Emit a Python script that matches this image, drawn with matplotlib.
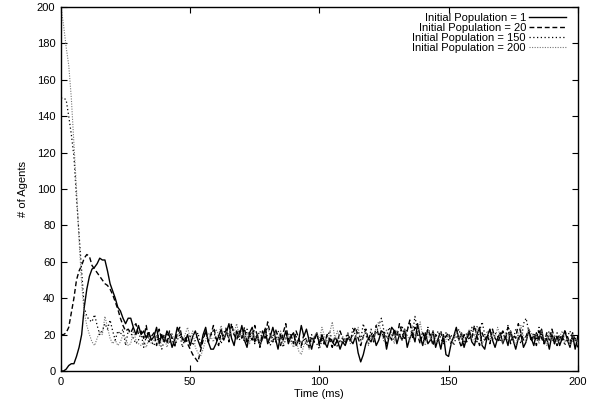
import matplotlib
matplotlib.use('Agg')
from matplotlib import pyplot as plt
import numpy as np

matplotlib.rcParams['font.family'] = ['Liberation Sans', 'DejaVu Sans']
matplotlib.rcParams['font.size'] = 8

# number of agents per ms
pop1 = [0, 0, 1, 3, 4, 4, 8, 13, 20, 35, 45, 52, 56, 57, 59, 62, 61, 61, 55, 48,
        44, 40, 35, 33, 29, 26, 29, 29, 24, 20,
        25, 20, 22, 18, 21, 17, 19, 24, 15, 20, 16, 22, 19, 13, 17, 24, 21, 18, 16, 20,
        14, 19, 22, 17, 13, 20, 24, 16, 12, 12, 15, 19, 23, 17, 21, 26, 18, 14, 22, 19,
        25, 17, 13, 21, 24, 16, 20, 14, 18, 23, 15, 19, 24, 18, 12, 20, 17, 22, 15, 19,
        21, 14, 17, 25, 19, 23, 17, 12, 18, 21, 15, 20, 16, 13, 18, 16, 14, 17, 12, 16,
        14, 18, 17, 15, 19, 10, 5, 9, 15, 18, 16, 20, 14, 17, 22, 21, 12, 19, 24, 22,
        15, 20, 17, 23, 13, 18, 21, 16, 26, 19, 14, 21, 15, 17, 22, 13, 18, 12, 20, 9,
        8, 15, 19, 24, 17, 21, 13, 18, 22, 16, 14, 20, 24, 14, 12, 19, 23, 17, 13, 18,
        21, 15, 19, 14, 22, 17, 12, 18, 20, 13, 16, 22, 18, 14, 21, 17, 23, 15, 18, 12,
        20, 15, 19, 14, 18, 22, 17, 13, 20, 12, 19]

pop20 = [20, 20, 21, 24, 32, 40, 50, 55, 58, 62, 64, 63, 58, 56, 54, 52, 50, 48, 47, 45,
         42, 38, 34, 29, 25, 22, 23, 21, 24, 26,
         20, 22, 18, 25, 16, 19, 21, 14, 23, 17, 20, 15, 22, 18, 13, 21, 24, 17, 19, 15,
         12, 9, 7, 5, 11, 17, 22, 16, 20, 25, 18, 14, 21, 19, 23, 16, 26, 20, 17, 22,
         18, 24, 15, 21, 17, 25, 19, 13, 22, 18, 27, 20, 16, 23, 19, 14, 21, 26, 17, 20,
         15, 22, 18, 14, 20, 17, 13, 19, 16, 21, 14, 18, 15, 20, 17, 13, 19, 16, 22, 18,
         15, 20, 17, 21, 24, 18, 14, 19, 23, 17, 21, 16, 25, 19, 22, 18, 15, 20, 17, 23,
         19, 26, 21, 17, 22, 28, 18, 24, 20, 15, 21, 17, 23, 19, 14, 20, 18, 22, 16, 19,
         21, 15, 18, 23, 17, 13, 20, 16, 22, 18, 25, 19, 14, 21, 17, 20, 15, 23, 18, 16,
         19, 22, 17, 24, 15, 20, 18, 26, 21, 17, 19, 23, 16, 20, 14, 22, 18, 15, 21, 17,
         23, 18, 14, 20, 16, 22, 19, 15, 21, 17, 13]

pop150 = [150, 150, 149, 140, 130, 118, 95, 75, 55, 35, 30, 28, 27, 31, 25, 20, 22, 26, 23, 28,
          22, 17, 22, 20, 23, 14, 22, 21, 18, 15,
          17, 21, 13, 19, 22, 16, 14, 20, 18, 12, 17, 21, 15, 19, 14, 17, 20, 13, 18, 16,
          19, 14, 17, 21, 15, 18, 22, 16, 19, 23, 17, 20, 15, 21, 24, 18, 26, 19, 22, 17,
          20, 16, 23, 18, 21, 15, 19, 22, 17, 24, 18, 14, 20, 16, 22, 19, 13, 18, 21, 17,
          15, 19, 16, 13, 18, 14, 17, 20, 16, 15, 12, 17, 14, 19, 22, 16, 18, 13, 17, 15,
          18, 21, 16, 24, 19, 22, 17, 26, 20, 15, 23, 18, 21, 25, 29, 22, 18, 24, 20, 17,
          22, 19, 25, 18, 23, 27, 20, 30, 22, 18, 21, 17, 24, 20, 16, 19, 22, 18, 15, 21,
          17, 20, 14, 19, 23, 18, 15, 21, 17, 24, 19, 16, 22, 27, 20, 18, 23, 17, 21, 19,
          16, 22, 18, 25, 20, 17, 23, 19, 15, 26, 29, 22, 18, 21, 17, 24, 20, 16, 19, 22,
          18, 15, 21, 17, 20, 14, 19, 22, 16, 18, 15]

pop200 = [200, 190, 178, 168, 150, 125, 100, 72, 48, 32, 25, 20, 16, 14, 18, 22, 20, 30, 24, 18,
          15, 17, 14, 16, 20, 18, 14, 15, 22, 17,
          15, 14, 16, 13, 18, 15, 17, 20, 14, 16, 19, 13, 17, 21, 15, 18, 22, 16, 20, 24,
          18, 22, 13, 10, 8, 12, 17, 21, 19, 16, 23, 20, 25, 18, 22, 17, 24, 21, 26, 19,
          22, 17, 20, 15, 23, 18, 21, 14, 17, 20, 24, 19, 16, 21, 17, 22, 15, 18, 20, 16,
          13, 17, 11, 9, 14, 18, 12, 16, 19, 21, 17, 24, 19, 15, 21, 27, 18, 22, 16, 19,
          17, 21, 15, 20, 18, 24, 16, 19, 22, 14, 20, 17, 25, 27, 21, 16, 23, 18, 20, 15,
          22, 19, 17, 23, 20, 16, 25, 18, 21, 27, 19, 14, 20, 17, 22, 18, 15, 21, 19, 16,
          20, 14, 18, 22, 17, 21, 15, 19, 23, 18, 16, 25, 20, 14, 19, 22, 17, 21, 18, 24,
          19, 15, 21, 17, 22, 18, 14, 20, 25, 19, 16, 23, 21, 17, 20, 15, 22, 18, 14, 21,
          17, 20, 15, 19, 22, 16, 18, 14, 20, 17, 15]

fig = plt.figure(figsize=(5.95, 4.13), dpi=100)
ax = fig.add_axes([0.1025, 0.1017, 0.8685, 0.8813])

ax.plot(np.arange(len(pop1)), pop1, color='black', lw=1.0, ls='-',
        label='Initial Population = 1')
ax.plot(np.arange(len(pop20)), pop20, color='black', lw=1.0, ls=(0, (3.5, 2)),
        label='Initial Population = 20')
ax.plot(np.arange(len(pop150)), pop150, color='black', lw=0.9, ls=(0, (1, 2)),
        label='Initial Population = 150')
ax.plot(np.arange(len(pop200)), pop200, color='#777777', lw=0.8, ls=(0, (1, 1.3)),
        label='Initial Population = 200')

ax.set_xlim(0, 200)
ax.set_ylim(0, 200)
ax.set_xticks(np.arange(0, 201, 50))
ax.set_yticks(np.arange(0, 201, 20))
ax.tick_params(direction='in', top=True, right=True, length=4, width=0.8, pad=4)
for s in ax.spines.values():
    s.set_linewidth(1.0)

ax.set_xlabel('Time (ms)', labelpad=2)
ax.set_ylabel('# of Agents', labelpad=6)

leg = ax.legend(loc='upper right', frameon=False, markerfirst=False, handlelength=3.3,
                labelspacing=0.0, borderaxespad=0.1, handletextpad=0.3,
                bbox_to_anchor=(0.988, 1.0))
for t in leg.get_texts():
    t.set_ha('right')
leg._legend_box.align = 'right'

fig.savefig('out.png', dpi=100)
